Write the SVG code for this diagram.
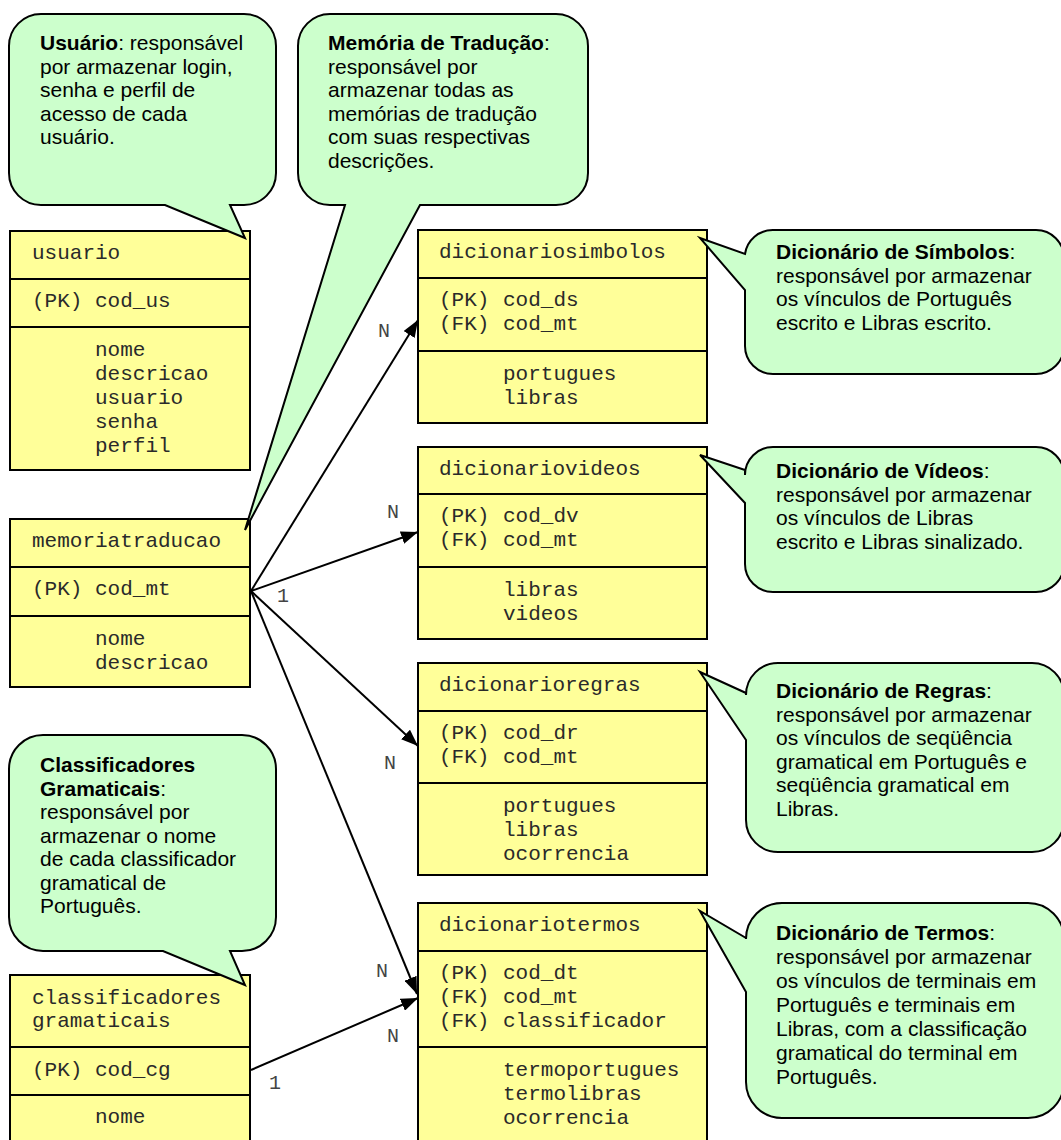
<svg xmlns="http://www.w3.org/2000/svg" width="1061" height="1140" viewBox="0 0 1061 1140">
<defs>
<style>
.box{fill:#FFFF99;stroke:#000;stroke-width:2}
.sep{stroke:#000;stroke-width:2}
.mono{font-family:"Liberation Mono","Courier New",monospace;font-size:21px;fill:#2a2a2a}
.lbl{font-family:"Liberation Mono","Courier New",monospace;font-size:20px;fill:#444;text-anchor:middle}
.callout{fill:#CCFFCC;stroke:#000;stroke-width:2;stroke-linejoin:miter}
.sans{font-family:"Liberation Sans",Arial,sans-serif;font-size:21px;fill:#000}
.b{font-weight:bold}
.conn{stroke:#000;stroke-width:2;fill:none}
</style>
<marker id="arr" markerUnits="userSpaceOnUse" markerWidth="17" markerHeight="13" refX="17" refY="6.5" orient="auto" viewBox="0 0 17 13">
<path d="M0,0 L17,6.5 L0,13 Z" fill="#000"/>
</marker>
</defs>
<rect width="1061" height="1140" fill="#fff"/>

<g id="usuario">
<rect class="box" x="10" y="231" width="240" height="239"/>
<line class="sep" x1="10" y1="279" x2="250" y2="279"/>
<line class="sep" x1="10" y1="327" x2="250" y2="327"/>
<text class="mono" x="32" y="259">usuario</text>
<text class="mono" x="32" y="307">(PK)</text><text class="mono" x="95" y="307">cod_us</text>
<text class="mono" x="95" y="356">nome</text>
<text class="mono" x="95" y="380">descricao</text>
<text class="mono" x="95" y="404">usuario</text>
<text class="mono" x="95" y="428">senha</text>
<text class="mono" x="95" y="452">perfil</text>
</g>

<g id="memoriatraducao">
<rect class="box" x="10" y="519" width="240" height="168"/>
<line class="sep" x1="10" y1="567" x2="250" y2="567"/>
<line class="sep" x1="10" y1="616" x2="250" y2="616"/>
<text class="mono" x="32" y="547">memoriatraducao</text>
<text class="mono" x="32" y="595">(PK)</text><text class="mono" x="95" y="595">cod_mt</text>
<text class="mono" x="95" y="645">nome</text>
<text class="mono" x="95" y="669">descricao</text>
</g>

<g id="classificadores">
<rect class="box" x="10" y="975" width="240" height="190"/>
<line class="sep" x1="10" y1="1047" x2="250" y2="1047"/>
<line class="sep" x1="10" y1="1095" x2="250" y2="1095"/>
<text class="mono" x="32" y="1004">classificadores</text>
<text class="mono" x="32" y="1027">gramaticais</text>
<text class="mono" x="32" y="1076">(PK)</text><text class="mono" x="95" y="1076">cod_cg</text>
<text class="mono" x="95" y="1123">nome</text>
</g>

<g id="dicionariosimbolos">
<rect class="box" x="418" y="230" width="289" height="193"/>
<line class="sep" x1="418" y1="278" x2="707" y2="278"/>
<line class="sep" x1="418" y1="351" x2="707" y2="351"/>
<text class="mono" x="439" y="258">dicionariosimbolos</text>
<text class="mono" x="439" y="306">(PK)</text><text class="mono" x="503" y="306">cod_ds</text>
<text class="mono" x="439" y="330">(FK)</text><text class="mono" x="503" y="330">cod_mt</text>
<text class="mono" x="503" y="380">portugues</text>
<text class="mono" x="503" y="404">libras</text>
</g>

<g id="dicionariovideos">
<rect class="box" x="418" y="447" width="289" height="192"/>
<line class="sep" x1="418" y1="494" x2="707" y2="494"/>
<line class="sep" x1="418" y1="567" x2="707" y2="567"/>
<text class="mono" x="439" y="475">dicionariovideos</text>
<text class="mono" x="439" y="522">(PK)</text><text class="mono" x="503" y="522">cod_dv</text>
<text class="mono" x="439" y="546">(FK)</text><text class="mono" x="503" y="546">cod_mt</text>
<text class="mono" x="503" y="596">libras</text>
<text class="mono" x="503" y="620">videos</text>
</g>

<g id="dicionarioregras">
<rect class="box" x="418" y="663" width="289" height="212"/>
<line class="sep" x1="418" y1="711" x2="707" y2="711"/>
<line class="sep" x1="418" y1="783" x2="707" y2="783"/>
<text class="mono" x="439" y="691">dicionarioregras</text>
<text class="mono" x="439" y="739">(PK)</text><text class="mono" x="503" y="739">cod_dr</text>
<text class="mono" x="439" y="763">(FK)</text><text class="mono" x="503" y="763">cod_mt</text>
<text class="mono" x="503" y="812">portugues</text>
<text class="mono" x="503" y="836">libras</text>
<text class="mono" x="503" y="860">ocorrencia</text>
</g>

<g id="dicionariotermos">
<rect class="box" x="418" y="903" width="289" height="262"/>
<line class="sep" x1="418" y1="951" x2="707" y2="951"/>
<line class="sep" x1="418" y1="1047" x2="707" y2="1047"/>
<text class="mono" x="439" y="931">dicionariotermos</text>
<text class="mono" x="439" y="979">(PK)</text><text class="mono" x="503" y="979">cod_dt</text>
<text class="mono" x="439" y="1003">(FK)</text><text class="mono" x="503" y="1003">cod_mt</text>
<text class="mono" x="439" y="1027">(FK)</text><text class="mono" x="503" y="1027">classificador</text>
<text class="mono" x="503" y="1076">termoportugues</text>
<text class="mono" x="503" y="1100">termolibras</text>
<text class="mono" x="503" y="1124">ocorrencia</text>
</g>

<g id="connectors">
<line class="conn" x1="251" y1="591" x2="418" y2="320" marker-end="url(#arr)"/>
<line class="conn" x1="251" y1="591" x2="418" y2="532" marker-end="url(#arr)"/>
<line class="conn" x1="251" y1="591" x2="418" y2="746" marker-end="url(#arr)"/>
<line class="conn" x1="251" y1="591" x2="417" y2="994" marker-end="url(#arr)"/>
<line class="conn" x1="251" y1="1070" x2="418" y2="998" marker-end="url(#arr)"/>
<text class="lbl" x="384" y="337">N</text>
<text class="lbl" x="283" y="602">1</text>
<text class="lbl" x="393" y="518">N</text>
<text class="lbl" x="390" y="769">N</text>
<text class="lbl" x="382" y="977">N</text>
<text class="lbl" x="393" y="1042">N</text>
<text class="lbl" x="275" y="1089">1</text>
</g>

<g id="callout-usuario">
<path class="callout" d="M41,14 H244 A32 32 0 0 1 276 46 V173 A32 32 0 0 1 244 205 H230 L245 238 L165 205 H41 A32 32 0 0 1 9 173 V46 A32 32 0 0 1 41 14 Z"/>
<text class="sans" x="40" y="50"><tspan class="b">Usuário</tspan>: responsável</text>
<text class="sans" x="40" y="73.5">por armazenar login,</text>
<text class="sans" x="40" y="97">senha e perfil de</text>
<text class="sans" x="40" y="120.5">acesso de cada</text>
<text class="sans" x="40" y="144">usuário.</text>
</g>

<g id="callout-memoria">
<path class="callout" d="M330,14 H556 A32 32 0 0 1 588 46 V173 A32 32 0 0 1 556 205 H420 L245 530 L345 205 H330 A32 32 0 0 1 298 173 V46 A32 32 0 0 1 330 14 Z"/>
<text class="sans" x="328" y="50"><tspan class="b">Memória de Tradução</tspan>:</text>
<text class="sans" x="328" y="73.5">responsável por</text>
<text class="sans" x="328" y="97">armazenar todas as</text>
<text class="sans" x="328" y="120.5">memórias de tradução</text>
<text class="sans" x="328" y="144">com suas respectivas</text>
<text class="sans" x="328" y="167.5">descrições.</text>
</g>

<g id="callout-classificadores">
<path class="callout" d="M43,735 H242 A34 34 0 0 1 276 769 V917 A34 34 0 0 1 242 951 H230 L245 985 L163 951 H43 A34 34 0 0 1 9 917 V769 A34 34 0 0 1 43 735 Z"/>
<text class="sans b" x="40" y="772">Classificadores</text>
<text class="sans" x="40" y="795.5"><tspan class="b">Gramaticais</tspan>:</text>
<text class="sans" x="40" y="819">responsável por</text>
<text class="sans" x="40" y="842.5">armazenar o nome</text>
<text class="sans" x="40" y="866">de cada classificador</text>
<text class="sans" x="40" y="889.5">gramatical de</text>
<text class="sans" x="40" y="913">Português.</text>
</g>

<g id="callout-simbolos">
<path class="callout" d="M773,230 H1036 A28 28 0 0 1 1064 258 V346 A28 28 0 0 1 1036 374 H773 A28 28 0 0 1 745 346 V290 L700 238 L745 254 A28 28 0 0 1 773 230 Z"/>
<text class="sans" x="776" y="259"><tspan class="b">Dicionário de Símbolos</tspan>:</text>
<text class="sans" x="776" y="282.5">responsável por armazenar</text>
<text class="sans" x="776" y="306">os vínculos de Português</text>
<text class="sans" x="776" y="329.5">escrito e Libras escrito.</text>
</g>

<g id="callout-videos">
<path class="callout" d="M773,447 H1036 A28 28 0 0 1 1064 475 V564 A28 28 0 0 1 1036 592 H773 A28 28 0 0 1 745 564 V503 L700 455 L745 470 V475 A28 28 0 0 1 773 447 Z"/>
<text class="sans" x="776" y="478"><tspan class="b">Dicionário de Vídeos</tspan>:</text>
<text class="sans" x="776" y="501.5">responsável por armazenar</text>
<text class="sans" x="776" y="525">os vínculos de Libras</text>
<text class="sans" x="776" y="548.5">escrito e Libras sinalizado.</text>
</g>

<g id="callout-regras">
<path class="callout" d="M778,663 H1032 A32 32 0 0 1 1064 695 V820 A32 32 0 0 1 1032 852 H778 A32 32 0 0 1 746 820 V740 L700 672 L746 693 V695 A32 32 0 0 1 778 663 Z"/>
<text class="sans" x="776" y="698"><tspan class="b">Dicionário de Regras</tspan>:</text>
<text class="sans" x="776" y="721.5">responsável por armazenar</text>
<text class="sans" x="776" y="745">os vínculos de seqüência</text>
<text class="sans" x="776" y="768.5">gramatical em Português e</text>
<text class="sans" x="776" y="792">seqüência gramatical em</text>
<text class="sans" x="776" y="815.5">Libras.</text>
</g>

<g id="callout-termos">
<path class="callout" d="M782,903 H1028 A36 36 0 0 1 1064 939 V1082 A36 36 0 0 1 1028 1118 H782 A36 36 0 0 1 746 1082 V992 L700 911 L746 938 V939 A36 36 0 0 1 782 903 Z"/>
<text class="sans" x="776" y="940"><tspan class="b">Dicionário de Termos</tspan>:</text>
<text class="sans" x="776" y="964">responsável por armazenar</text>
<text class="sans" x="776" y="988">os vínculos de terminais em</text>
<text class="sans" x="776" y="1012">Português e terminais em</text>
<text class="sans" x="776" y="1036">Libras, com a classificação</text>
<text class="sans" x="776" y="1060">gramatical do terminal em</text>
<text class="sans" x="776" y="1084">Português.</text>
</g>
</svg>
